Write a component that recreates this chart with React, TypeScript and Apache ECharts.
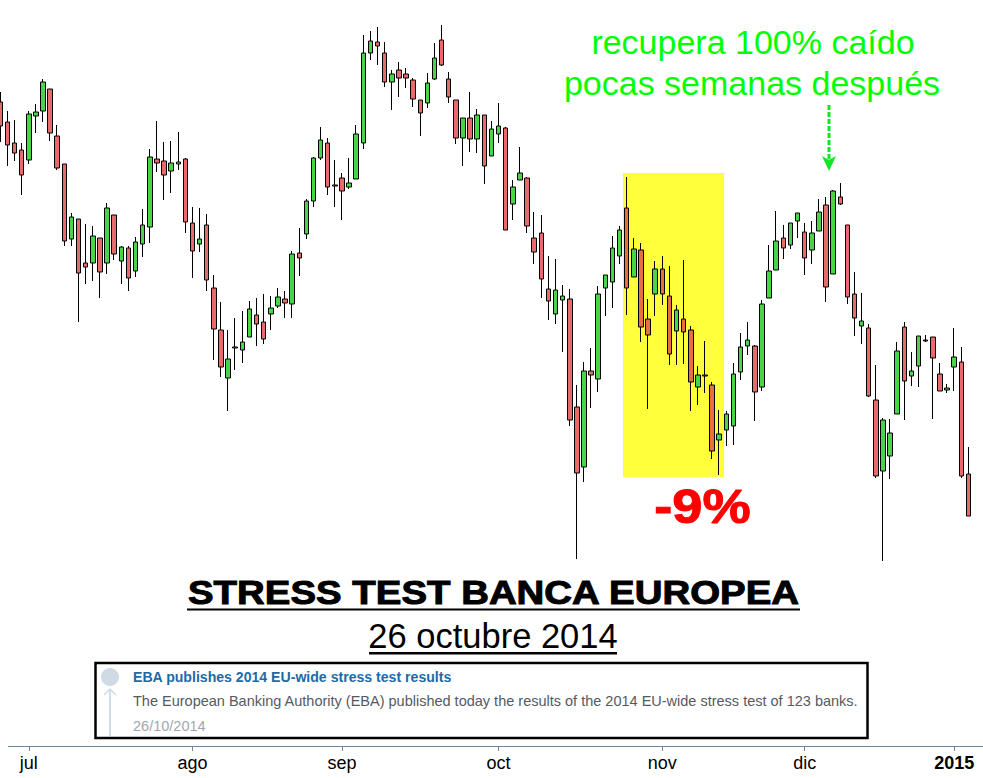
import React, { useEffect, useRef } from "react";
import * as echarts from "echarts";

// Values are index points (scale is unlabelled in the source).
const highs = [708,689,680,657,689,696,721,711,675,636,587,581,576,574,562,597,585,554,554,563,591,651,679,658,659,668,642,593,592,586,525,498,470,482,489,499,502,506,504,512,509,549,572,601,643,673,662,640,627,642,675,765,769,773,758,730,738,732,722,700,727,757,775,728,700,682,708,691,685,679,697,673,620,653,623,588,585,544,541,515,511,415,438,452,514,525,564,574,623,562,557,501,539,544,534,495,540,474,434,459,418,390,389,437,467,478,455,500,555,589,575,577,587,577,579,601,603,610,617,575,528,507,476,435,382,381,458,478,448,464,465,463,437,416,472,453,353];
const opens = [698,678,657,650,640,684,689,711,664,636,561,581,537,537,562,537,585,539,552,529,556,573,641,639,629,636,641,577,556,575,512,470,422,453,450,463,485,478,486,494,501,496,547,566,599,642,657,615,622,613,621,657,747,758,747,718,730,726,720,700,697,721,760,721,700,662,682,661,685,644,666,672,596,620,622,562,567,511,486,500,501,393,333,429,421,512,518,544,592,523,550,481,506,531,504,469,481,470,413,425,415,360,370,374,428,454,454,413,502,530,562,555,579,568,550,569,595,526,603,575,506,474,472,400,329,344,386,473,424,434,460,463,426,410,433,438,326];
const closes = [674,655,647,625,686,688,718,667,632,559,583,527,533,564,528,592,546,553,522,558,575,643,637,625,637,638,578,549,561,520,471,433,441,452,458,491,476,461,492,503,497,546,542,599,642,660,613,614,609,617,666,747,759,754,718,726,722,722,701,687,717,742,735,703,662,682,661,685,634,671,674,570,613,627,574,548,521,499,510,504,380,327,429,425,506,525,552,570,512,551,473,465,531,506,446,490,468,418,425,424,349,366,386,426,453,460,408,496,529,559,552,577,587,542,567,588,513,609,596,503,482,479,404,324,380,367,449,419,429,464,459,442,409,412,443,324,284];
const lows = [658,634,639,605,636,667,678,659,630,554,554,478,516,519,502,526,540,516,509,523,543,557,628,600,607,630,567,522,548,509,440,423,389,430,437,463,454,456,470,492,482,482,524,561,593,640,605,593,580,611,621,651,740,735,713,690,703,712,693,664,692,720,734,697,656,634,648,647,616,644,657,570,580,620,567,536,502,480,476,448,374,241,318,392,408,484,492,536,485,523,458,391,484,495,435,435,436,389,395,407,341,325,354,355,420,445,379,409,502,530,541,551,562,525,536,569,498,526,595,496,464,456,403,322,239,321,386,380,414,413,458,381,409,407,409,322,284];

const monthTicks = [4, 27, 48, 70, 93, 113, 134];
const monthLabels = ["jul", "ago", "sep", "oct", "nov", "dic", "2015"];
const highlightFirst = 88;
const highlightLast = 101;

const noteLines = ["recupera 100% caído", "pocas semanas después"];
const dropLabel = "-9%";
const headline = "STRESS TEST BANCA EUROPEA";
const dateline = "26 octubre 2014";
const newsTitle = "EBA publishes 2014 EU-wide stress test results";
const newsBody = "The European Banking Authority (EBA) published today the results of the 2014 EU-wide stress test of 123 banks.";
const newsDate = "26/10/2014";

const FONT = '"Liberation Sans", Arial, sans-serif';
const AXIS = "#6f8896";
const PALE = "#d0dce6";

export default function App() {
  const ref = useRef<HTMLDivElement>(null);
  useEffect(() => {
    const chart = echarts.init(ref.current!, undefined, { renderer: "svg" });
    const categories = opens.map((_, i) => {
      const k = monthTicks.indexOf(i);
      return k >= 0 ? monthLabels[k] : "";
    });
    const onTick = (i: number) => monthTicks.includes(i);
    const data = opens.map((o, i) => {
      const value = [o, closes[i], lows[i], highs[i]];
      if (i >= highlightFirst && i <= highlightLast && closes[i] < o) {
        return { value, itemStyle: { color0: "#e8703f", color: "#e8703f" } };
      }
      return { value };
    });
    const txt = (text: string, x: number, y: number, font: string, fill: string, align = "left", extra: any = {}, scaleX = 1) => ({
      type: "text",
      z: 10,
      x,
      y,
      scaleX,
      style: { text, x: 0, y: 0, font, fill, textAlign: align, textVerticalAlign: "middle", ...extra },
    });
    chart.setOption({
      animation: false,
      backgroundColor: "#ffffff",
      grid: { left: -3.26, top: 0, width: 975.2, height: 747, outerBoundsMode: "none" },
      xAxis: {
        type: "category",
        data: categories,
        boundaryGap: true,
        axisLine: { show: false },
        axisTick: { show: true, interval: onTick, alignWithLabel: true, length: 4, lineStyle: { color: AXIS, width: 1 } },
        axisLabel: {
          interval: onTick,
          margin: 7,
          color: "#000",
          fontFamily: FONT,
          fontSize: 18,
          formatter: (v: string) => (v === "2015" ? "{b|2015}" : v),
          rich: { b: { fontFamily: FONT, fontSize: 18, fontWeight: "bold", color: "#000" } },
        },
        splitLine: { show: false },
      },
      yAxis: { type: "value", min: 53, max: 800, show: false, splitLine: { show: false } },
      series: [
        {
          type: "candlestick",
          z: 5,
          clip: false,
          barWidth: 5,
          data,
          itemStyle: {
            color: "#48d648",
            color0: "#e86a6a",
            borderColor: "#000",
            borderColor0: "#000",
            borderColorDoji: "#000",
            borderWidth: 1,
          },
        },
      ],
      graphic: {
        elements: [
          { type: "rect", z: 0, shape: { x: 623, y: 173, width: 101, height: 304 }, style: { fill: "#ffff3c" } },
          { type: "line", z: 1, shape: { x1: 8, y1: 746.5, x2: 983, y2: 746.5 }, style: { stroke: AXIS, lineWidth: 1 } },

          txt(noteLines[0], 753, 42, `34px ${FONT}`, "#00ff00", "center"),
          txt(noteLines[1], 752, 83, `34px ${FONT}`, "#00ff00", "center"),
          { type: "line", z: 10, shape: { x1: 829, y1: 105, x2: 829, y2: 162 }, style: { stroke: "#10e62a", lineWidth: 3, lineDash: [5, 2] } },
          { type: "polygon", z: 10, shape: { points: [[822, 156], [829, 160], [836, 156], [829, 171]] }, style: { fill: "#10e62a" } },

          txt(dropLabel, 702.5, 507, `bold 48px ${FONT}`, "#ff0000", "center", { stroke: "#ff0000", lineWidth: 1 }, 1.13),
          txt(headline, 493.5, 592, `bold 34px ${FONT}`, "#000", "center", { stroke: "#000", lineWidth: 1 }, 1.13),
          { type: "rect", z: 10, shape: { x: 187, y: 608.5, width: 613, height: 2 }, style: { fill: "#000" } },
          txt(dateline, 493, 636, `34.5px ${FONT}`, "#000", "center"),
          { type: "rect", z: 10, shape: { x: 369, y: 652, width: 248, height: 2.5 }, style: { fill: "#000" } },

          { type: "rect", z: 8, shape: { x: 95.5, y: 663, width: 772, height: 75 }, style: { fill: "#fff", stroke: "#000", lineWidth: 2.5 } },
          { type: "circle", z: 10, shape: { cx: 110, cy: 677, r: 9 }, style: { fill: "#cfdae4" } },
          { type: "line", z: 10, shape: { x1: 110, y1: 689, x2: 110, y2: 736 }, style: { stroke: PALE, lineWidth: 2 } },
          { type: "polyline", z: 10, shape: { points: [[104, 695], [110, 689], [116, 695]] }, style: { stroke: PALE, lineWidth: 1.5, fill: "none" } },
          txt(newsTitle, 133, 677, `bold 14.1px ${FONT}`, "#1c6aa8"),
          txt(newsBody, 133, 701, `14.5px ${FONT}`, "#555a62"),
          txt(newsDate, 133, 726, `14.5px ${FONT}`, "#a2a6ac"),
        ],
      },
    });
    return () => chart.dispose();
  }, []);
  return <div ref={ref} style={{ position: "fixed", left: 0, top: 0, width: 983, height: 778, overflow: "hidden" }} />;
}
